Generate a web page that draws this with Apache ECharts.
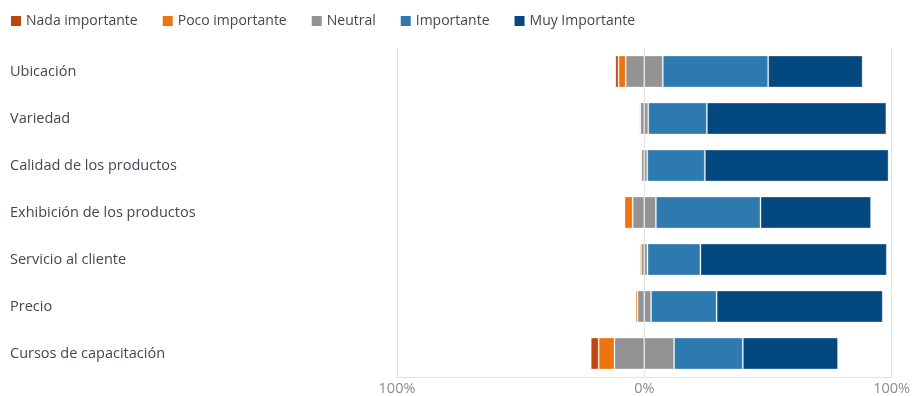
<!DOCTYPE html>
<html><head><meta charset="utf-8">
<script src="https://cdn.jsdelivr.net/npm/echarts@6/dist/echarts.min.js"></script>
<style>html,body{margin:0;padding:0;background:#fff}#c{width:913px;height:396px}</style>
</head><body><div id="c"></div>
<script>
const categories = ['Ubicación','Variedad','Calidad de los productos','Exhibición de los productos','Servicio al cliente','Precio','Cursos de capacitación'];
const nada = [1.3, 0, 0, 0.3, 0, 0, 3.2];
const poco = [2.9, 0.5, 0.2, 3.3, 0.6, 0.8, 6.4];
const neutral = [15, 3.2, 2.4, 9.4, 2.6, 5.5, 24.1];
const importante = [42.6, 23.7, 23.3, 42.3, 21.4, 26.5, 27.8];
const muy = [38.2, 72.6, 74.3, 44.7, 75.4, 67.2, 38.5];
const tickLabels = {'-100':'100%','0':'0%','100':'100%'};

const colors = {nada:'#C0440D', poco:'#EE7410', neutral:'#939393', imp:'#2E7AB0', muy:'#03497F'};
const font = "'Open Sans', 'Noto Sans', sans-serif";
const border = {borderColor:'rgba(255,255,255,0.3)', borderWidth:1};
function s(name, data, color){
  return {name, type:'bar', stack:'t', data, barCategoryGap:'32%',
    itemStyle:Object.assign({color}, border), emphasis:{disabled:true}};
}
const chart = echarts.init(document.getElementById('c'));
chart.setOption({
  animation:false,
  textStyle:{fontFamily:font},
  legend:{
    data:[
      {name:'Nada importante', itemStyle:{color:colors.nada, borderWidth:0}},
      {name:'Poco importante', itemStyle:{color:colors.poco, borderWidth:0}},
      {name:'Neutral', itemStyle:{color:colors.neutral, borderWidth:0}},
      {name:'Importante', itemStyle:{color:colors.imp, borderWidth:0}},
      {name:'Muy Importante', itemStyle:{color:colors.muy, borderWidth:0}}
    ],
    left:6, top:9, icon:'rect', itemWidth:10, itemHeight:10, itemGap:25,
    textStyle:{fontFamily:font, fontSize:14, color:'#404850'}, selectedMode:false
  },
  grid:{left:397, right:17, top:48, bottom:14, containLabel:false},
  xAxis:{type:'value', min:-100, max:100, interval:100,
    axisLine:{show:true, lineStyle:{color:'#e3e3e3'}}, axisTick:{show:false},
    splitLine:{show:true, lineStyle:{color:'#e3e3e3'}},
    axisLabel:{formatter:v=>tickLabels[String(v)], color:'#8c8c8c', fontSize:14.5, fontFamily:font, margin:4}},
  yAxis:{type:'category', data:categories, inverse:true,
    axisLine:{show:false}, axisTick:{show:false},
    axisLabel:{align:'left', margin:387, color:'#404850', fontSize:14.5, fontFamily:font}},
  series:[
    s('Neutral', neutral.map(v=>-v/2), colors.neutral),
    s('Poco importante', poco.map(v=>-v), colors.poco),
    s('Nada importante', nada.map(v=>-v), colors.nada),
    s('Neutral', neutral.map(v=>v/2), colors.neutral),
    s('Importante', importante, colors.imp),
    s('Muy Importante', muy, colors.muy)
  ]
});
</script></body></html>
